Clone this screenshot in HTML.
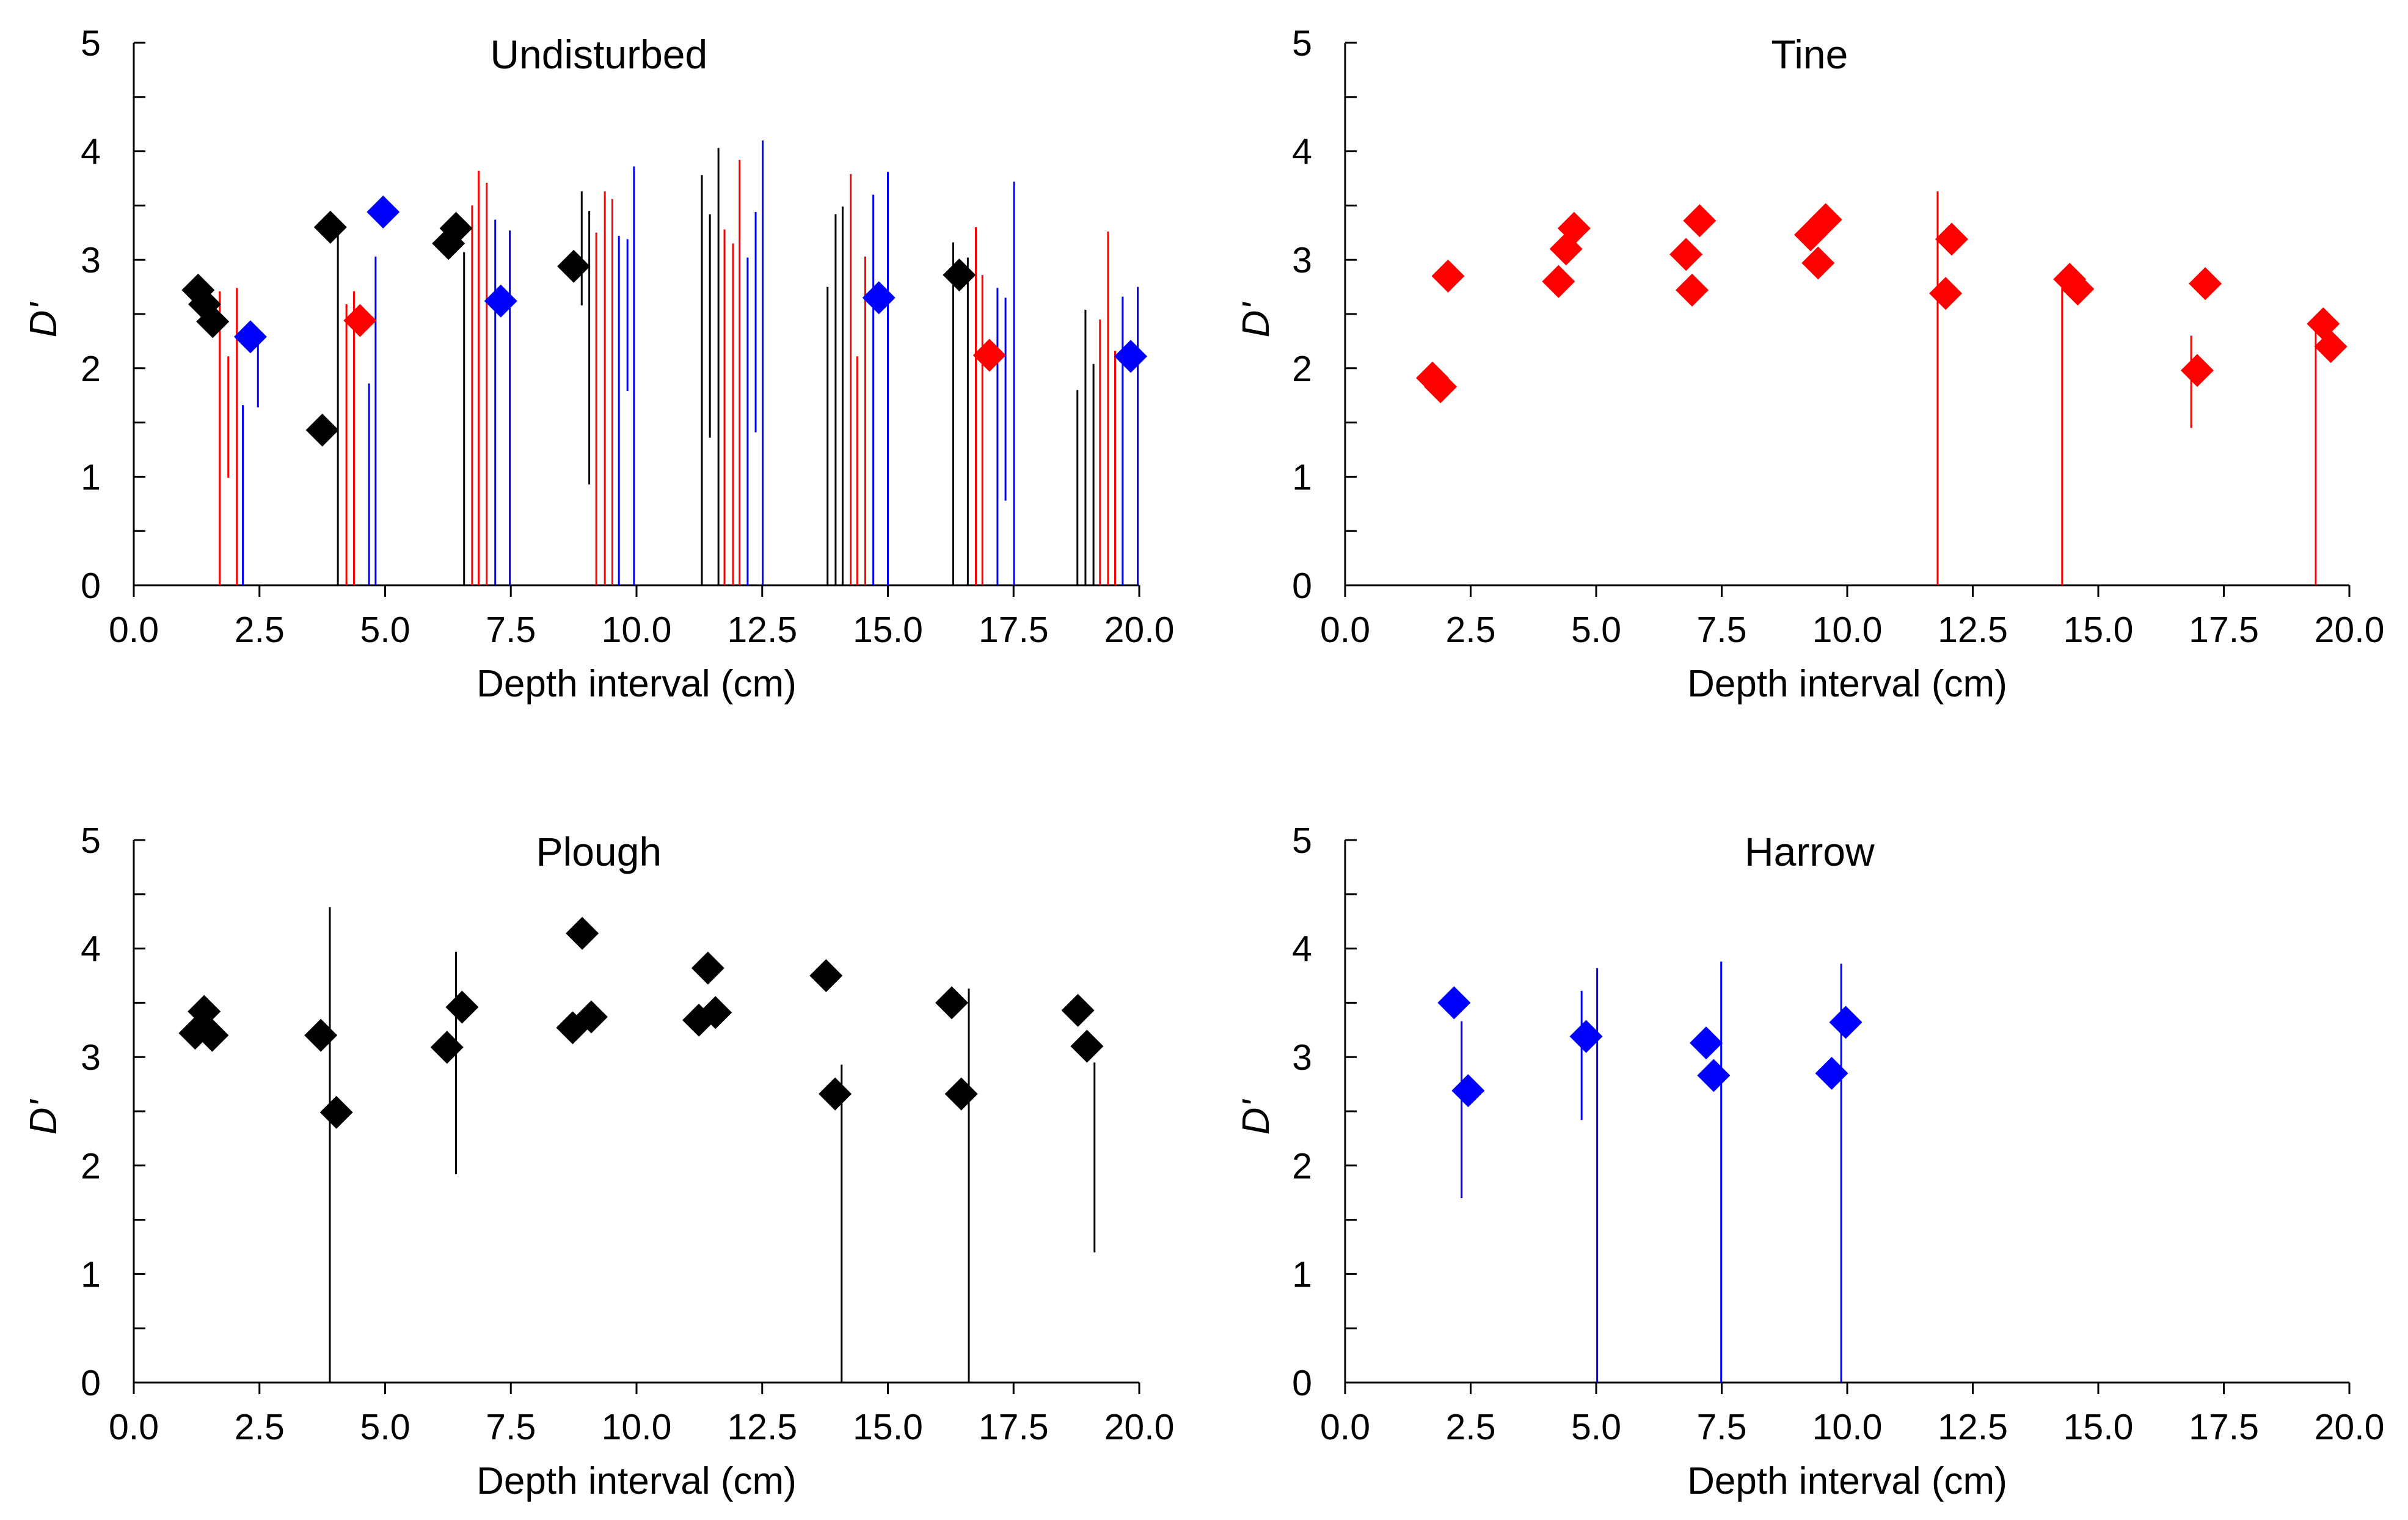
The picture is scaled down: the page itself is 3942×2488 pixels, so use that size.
<!DOCTYPE html>
<html><head><meta charset="utf-8"><style>
html,body{margin:0;padding:0;background:#fff}
svg{display:block}
text{font-family:"Liberation Sans",Arial,sans-serif;fill:#000}
</style></head><body>
<svg id="chart" xmlns="http://www.w3.org/2000/svg" width="3942" height="2488" viewBox="0 0 3942 2488"></svg>
<script>
// ---- Undisturbed ----
const undBlackX=[1.28,1.41,1.57,3.75,3.91,6.26,6.41,8.75,16.42];
const undBlackY=[2.72,2.59,2.43,1.43,3.30,3.15,3.29,2.94,2.86];
const undBlueX=[2.32,4.96,7.30,14.82,19.83];
const undBlueY=[2.29,3.44,2.62,2.65,2.11];
const undRedX=[4.50,17.02];
const undRedY=[2.44,2.12];
const undErrX=[1.71,1.88,2.05,2.17,2.47,4.06,4.23,4.38,4.68,4.81,6.57,6.73,6.86,7.02,7.19,7.48,8.91,9.06,9.20,9.37,9.52,9.65,9.82,9.95,11.30,11.46,11.63,11.75,11.92,12.05,12.21,12.37,12.51,13.80,13.96,14.10,14.26,14.39,14.55,14.71,15.00,16.30,16.59,16.75,16.88,17.18,17.34,17.51,18.77,18.93,19.09,19.22,19.38,19.52,19.67,19.97];
const undErrLo=[0,0.99,0,0,1.64,0,0,0,0,0,0,0,0,0,0,0,2.58,0.93,0,0,0,0,1.79,0,0,1.36,0,0,0,0,0,1.41,0,0,0,0,0,0,0,0,0,0,0,0,0,0,0.78,0,0,0,0,0,0,0,0,0];
const undErrHi=[2.71,2.11,2.74,1.66,2.29,3.23,2.59,2.71,1.86,3.03,3.07,3.50,3.82,3.71,3.37,3.27,3.63,3.45,3.25,3.63,3.56,3.22,3.19,3.86,3.78,3.42,4.03,3.28,3.15,3.92,3.02,3.44,4.10,2.75,3.42,3.49,3.79,2.11,3.03,3.60,3.81,3.16,3.02,3.30,2.86,2.74,2.65,3.72,1.80,2.54,2.04,2.45,3.26,2.16,2.66,2.75];
const undErrC=["r","r","r","b","b","k","r","r","b","b","k","r","r","r","b","b","k","k","r","r","r","b","b","b","k","k","k","r","r","r","b","b","b","k","k","k","r","r","r","b","b","k","k","r","r","b","b","b","k","k","k","r","r","r","b","b"];
// ---- Tine ----
const tineX=[1.74,1.90,2.05,4.25,4.40,4.56,6.79,6.91,7.06,9.27,9.42,9.57,11.96,12.08,14.43,14.59,16.97,17.13,19.48,19.63];
const tineY=[1.91,1.83,2.85,2.80,3.10,3.29,3.05,2.72,3.36,3.23,2.97,3.37,2.69,3.19,2.82,2.73,1.98,2.78,2.41,2.20];
const tineErrX=[11.80,14.28,16.85,19.33];
const tineErrLo=[0,0,1.45,0];
const tineErrHi=[3.63,2.80,2.30,2.35];
// ---- Plough ----
const ploughX=[1.22,1.40,1.56,3.72,4.03,6.23,6.53,8.73,8.92,9.10,11.24,11.42,11.57,13.77,13.95,16.27,16.46,18.78,18.96];
const ploughY=[3.22,3.42,3.20,3.20,2.49,3.09,3.46,3.27,4.14,3.37,3.34,3.82,3.41,3.75,2.66,3.50,2.66,3.43,3.10];
const ploughErrX=[3.90,6.41,14.08,16.61,19.11];
const ploughErrLo=[0,1.92,0,0,1.20];
const ploughErrHi=[4.38,3.97,2.93,3.63,2.95];
// ---- Harrow ----
const harrowX=[2.17,2.45,4.80,7.19,7.34,9.69,9.97];
const harrowY=[3.50,2.69,3.19,3.13,2.83,2.85,3.32];
const harrowErrX=[2.32,4.71,5.02,7.49,9.88];
const harrowErrLo=[1.70,2.42,0,0,0];
const harrowErrHi=[3.33,3.61,3.82,3.88,3.86];
const xTicks=["0.0","2.5","5.0","7.5","10.0","12.5","15.0","17.5","20.0"];
const yTicks=["0","1","2","3","4","5"];

const NS="http://www.w3.org/2000/svg";
const svg=document.getElementById('chart');
const COL={k:"#000000",r:"#ff0000",b:"#0000ff"};
function mk(tag,attrs,parent){const e=document.createElementNS(NS,tag);for(const k in attrs)e.setAttribute(k,attrs[k]);parent.appendChild(e);return e;}

function panel(id,title,L,R,T,B,yTitleX){
  const g=mk('g',{},svg);
  
  
  const sx=v=>L+(v/20)*(R-L);
  const sy=v=>B-(v/5)*(B-T);
  const ax=mk('path',{d:`M${L},${T} V${B} H${R}`,fill:'none',stroke:'#000','stroke-width':3},g);
  
  
  for(let i=0;i<=10;i++){const y=sy(i/2);mk('line',{x1:L,x2:L+19,y1:y,y2:y,stroke:'#000','stroke-width':3},g);}
  yTicks.forEach(t=>{const tx=mk('text',{x:L-54,y:sy(+t)+21,'font-size':59,'text-anchor':'end'},g);tx.textContent=t;
    
    });
  xTicks.forEach(t=>{const x=sx(+t);mk('line',{x1:x,x2:x,y1:B,y2:B+19,stroke:'#000','stroke-width':3},g);
    const tx=mk('text',{x:x,y:B+93,'font-size':59,'text-anchor':'middle'},g);tx.textContent=t;
    
    });
  const xt=mk('text',{x:(L+R)/2,y:B+182,'font-size':62,'text-anchor':'middle'},g);xt.textContent='Depth interval (cm)';
  
  
  const cy=(T+B)/2+10;
  const yt=mk('text',{x:yTitleX,y:cy,'font-size':62,'text-anchor':'middle','font-style':'italic',transform:`rotate(-90 ${yTitleX} ${cy})`},g);yt.textContent="D'";
  
  
  const tt=mk('text',{x:sx(9.25),y:T+42,'font-size':66,'text-anchor':'middle'},g);tt.textContent=title;
  
  
  return {g,sx,sy};
}
function errs(p,id,X,Lo,Hi,C){
  X.forEach((x,i)=>{const c=typeof C==='string'?C:C[i];
    const l=mk('line',{x1:p.sx(x),x2:p.sx(x),y1:p.sy(Lo[i]),y2:p.sy(Hi[i]),stroke:COL[c],'stroke-width':3},p.g);
    
    });
}
function pts(p,id,X,Y,c){
  X.forEach((x,i)=>{const cx=p.sx(x),cy=p.sy(Y[i]),r=27;
    const d=mk('polygon',{points:`${cx},${cy-r} ${cx+r},${cy} ${cx},${cy+r} ${cx-r},${cy}`,fill:COL[c]},p.g);
    
    });
}
const p1=panel('undisturbed','Undisturbed',219,1865,70,958,92);
errs(p1,'undisturbed',undErrX,undErrLo,undErrHi,undErrC);
pts(p1,'undisturbed-black',undBlackX,undBlackY,'k');
pts(p1,'undisturbed-blue',undBlueX,undBlueY,'b');
pts(p1,'undisturbed-red',undRedX,undRedY,'r');
const p2=panel('tine','Tine',2202,3846,70,958,2077);
errs(p2,'tine',tineErrX,tineErrLo,tineErrHi,'r');
pts(p2,'tine',tineX,tineY,'r');
const p3=panel('plough','Plough',219,1865,1375,2263,92);
errs(p3,'plough',ploughErrX,ploughErrLo,ploughErrHi,'k');
pts(p3,'plough',ploughX,ploughY,'k');
const p4=panel('harrow','Harrow',2202,3846,1375,2263,2077);
errs(p4,'harrow',harrowErrX,harrowErrLo,harrowErrHi,'b');
pts(p4,'harrow',harrowX,harrowY,'b');
</script>
</body></html>
